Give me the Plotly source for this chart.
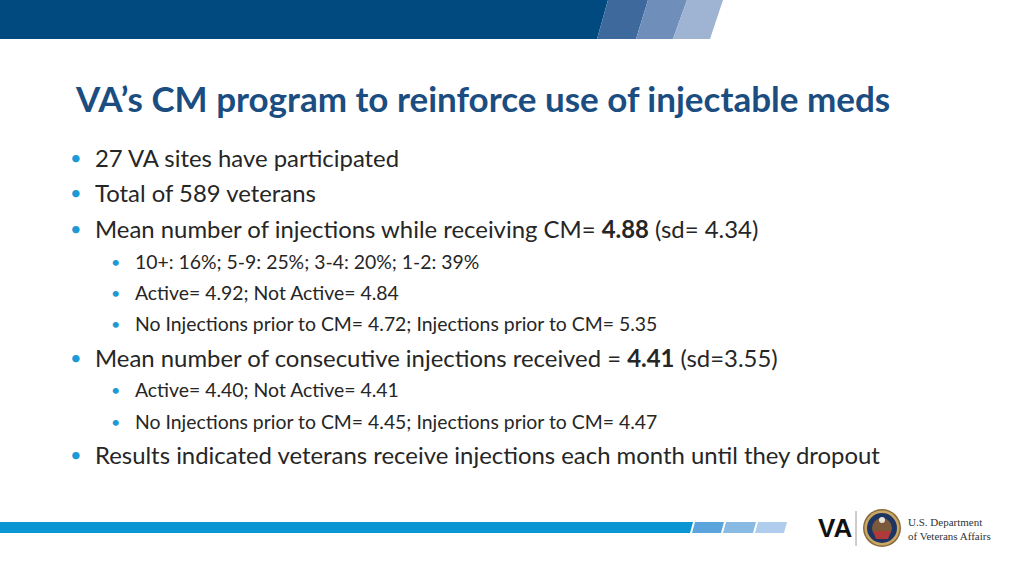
import plotly.graph_objects as go

W, H = 1024, 576

title_text = "VA’s CM program to reinforce use of injectable meds"

# bullet lines: (level, text)
bullet_levels = [1, 1, 1, 2, 2, 2, 1, 2, 2, 1]
bullet_texts = [
    "27 VA sites have participated",
    "Total of 589 veterans",
    "Mean number of injections while receiving CM= <b>4.88</b> (sd= 4.34)",
    "10+: 16%; 5-9: 25%; 3-4: 20%; 1-2: 39%",
    "Active= 4.92; Not Active= 4.84",
    "No Injections prior to CM= 4.72; Injections prior to CM= 5.35",
    "Mean number of consecutive injections received = <b>4.41</b> (sd=3.55)",
    "Active= 4.40; Not Active= 4.41",
    "No Injections prior to CM= 4.45; Injections prior to CM= 4.47",
    "Results indicated veterans receive injections each month until they dropout",
]
bullet_y = [157, 192, 228, 261, 292, 323, 357, 389, 421, 454]

top_stripe_colors = ["#004a80", "#3d699d", "#6f8fba", "#9fb3d3"]
bottom_bar_colors = ["#0a95d3", "#5ba5dc", "#88baE4", "#b0cdee"]

FONT = "Lato"
TEXT_COLOR = "#262626"
BULLET_COLOR = "#1d9ad6"
TITLE_COLOR = "#1b4d80"

fig = go.Figure()

shapes = []
# top banner: dark part plus slanted stripes
top_edges = [(608, 597), (648, 636), (687, 673), (723, 710)]
for i, (tx, bx) in enumerate(top_edges):
    if i == 0:
        path = f"M0,0 L{tx},0 L{bx},39 L0,39 Z"
    else:
        ptx, pbx = top_edges[i - 1]
        path = f"M{ptx},0 L{tx},0 L{bx},39 L{pbx},39 Z"
    shapes.append(dict(type="path", path=path, fillcolor=top_stripe_colors[i],
                       line=dict(width=0), layer="below"))

# bottom bar
bot_edges = [(693, 690), (724, 721), (756, 753), (787, 784)]
y0b, y1b = 522, 533
for i, (tx, bx) in enumerate(bot_edges):
    if i == 0:
        path = f"M0,{y0b} L{tx},{y0b} L{bx},{y1b} L0,{y1b} Z"
    else:
        ptx, pbx = bot_edges[i - 1]
        path = f"M{ptx + 2},{y0b} L{tx},{y0b} L{bx},{y1b} L{pbx + 2},{y1b} Z"
    shapes.append(dict(type="path", path=path, fillcolor=bottom_bar_colors[i],
                       line=dict(width=0), layer="below"))

# logo: separator line and seal
shapes.append(dict(type="line", x0=856, x1=856, y0=511, y1=546,
                   line=dict(color="#9a9a9a", width=1)))
cx, cy = 882, 528
for r, col in [(19, "#8a6a3a"), (17.5, "#c9a866"), (15, "#1e3463"), (10, "#7a5a3a")]:
    shapes.append(dict(type="circle", x0=cx - r, x1=cx + r, y0=cy - r, y1=cy + r,
                       fillcolor=col, line=dict(width=0)))
shapes.append(dict(type="path", path=f"M{cx-9},{cy+3} L{cx+9},{cy+3} L{cx+6},{cy+11} L{cx-6},{cy+11} Z",
                   fillcolor="#b03a3a", line=dict(width=0)))
shapes.append(dict(type="circle", x0=cx - 3, x1=cx + 3, y0=cy - 11, y1=cy - 5,
                   fillcolor="#e8e4dc", line=dict(width=0)))

annotations = []
annotations.append(dict(x=73, y=98, text=f"<b>{title_text}</b>", xanchor="left", yanchor="middle",
                        showarrow=False, font=dict(family=FONT, size=35, color=TITLE_COLOR)))

for lvl, txt, y in zip(bullet_levels, bullet_texts, bullet_y):
    if lvl == 1:
        bx, tx, fs, bfs = 68, 93, 23.9, 20
    else:
        bx, tx, fs, bfs = 109, 133, 19.4, 16
    annotations.append(dict(x=bx, y=y, text="•", xanchor="left", yanchor="middle", showarrow=False,
                            font=dict(family=FONT, size=bfs, color=BULLET_COLOR)))
    annotations.append(dict(x=tx, y=y, text=txt, xanchor="left", yanchor="middle", showarrow=False,
                            font=dict(family=FONT, size=fs, color=TEXT_COLOR)))

annotations.append(dict(x=816, y=528, text="<b>VA</b>", xanchor="left", yanchor="middle", showarrow=False,
                        font=dict(family="Liberation Sans Narrow, Liberation Sans", size=26, color="#111111")))
annotations.append(dict(x=906, y=529, text="U.S. Department<br>of Veterans Affairs", xanchor="left",
                        yanchor="middle", align="left", showarrow=False,
                        font=dict(family="Liberation Serif", size=11, color="#333333")))

fig.update_layout(
    width=W, height=H,
    margin=dict(l=0, r=0, t=0, b=0),
    paper_bgcolor="white", plot_bgcolor="white",
    xaxis=dict(range=[0, W], visible=False, fixedrange=True),
    yaxis=dict(range=[H, 0], visible=False, fixedrange=True),
    shapes=shapes, annotations=annotations, showlegend=False,
)

fig.write_html("out.html", config={"displayModeBar": False},
               post_script="document.body.style.margin='0';document.body.style.overflow='hidden';")
